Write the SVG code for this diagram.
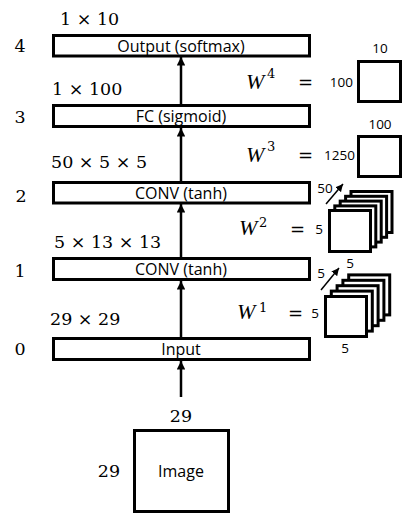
<svg xmlns="http://www.w3.org/2000/svg" width="410" height="515" viewBox="0 0 410 515">
<style>
.box{fill:#fff;stroke:#000;stroke-width:3}
.lbl{font-family:"Open Sans","Liberation Sans",sans-serif;font-size:16px;fill:#000;text-anchor:middle}
.math{font-family:"DejaVu Serif","Liberation Serif",serif;font-size:17.5px;fill:#000}
.idx{font-family:"DejaVu Serif","Liberation Serif",serif;font-size:17.5px;fill:#000;text-anchor:middle}
.w{font-family:"Liberation Serif","DejaVu Serif",serif;font-style:italic;font-size:22px;fill:#000}
.sup{font-family:"DejaVu Serif","Liberation Serif",serif;font-size:13px;fill:#000}
.eq{font-family:"DejaVu Serif","Liberation Serif",serif;font-size:18px;fill:#000}
.sm{font-family:"Open Sans","Liberation Sans",sans-serif;font-size:13.5px;fill:#000}
.conn{stroke:#000;stroke-width:2.5;fill:none}
.thin{stroke:#000;stroke-width:1.5;fill:none}
.sq{fill:#fff;stroke:#000;stroke-width:3}
</style>
<defs>
<marker id="ah" viewBox="0 0 10 10" refX="10" refY="5" markerWidth="3.4" markerHeight="3.4" orient="auto" markerUnits="strokeWidth">
<path d="M0,0 L10,5 L0,10 z" fill="#000"/>
</marker>
<marker id="ah2" viewBox="0 0 10 10" refX="10" refY="5" markerWidth="5" markerHeight="5" orient="auto" markerUnits="strokeWidth">
<path d="M0,0 L10,5 L0,10 z" fill="#000"/>
</marker>
</defs>

<g id="connectors">
<line class="conn" x1="181" y1="397" x2="181" y2="361" marker-end="url(#ah)"/>
<line class="conn" x1="181" y1="337" x2="181" y2="281" marker-end="url(#ah)"/>
<line class="conn" x1="181" y1="257" x2="181" y2="204" marker-end="url(#ah)"/>
<line class="conn" x1="181" y1="181" x2="181" y2="128" marker-end="url(#ah)"/>
<line class="conn" x1="181" y1="104" x2="181" y2="57" marker-end="url(#ah)"/>
</g>

<g id="node-output">
<rect class="box" x="53.5" y="35.5" width="256" height="20.5"/>
<text class="lbl" x="181" y="51.5">Output (softmax)</text>
<text class="idx" x="20" y="52">4</text>
<text class="math" x="60" y="25">1 × 10</text>
</g>

<g id="node-fc">
<rect class="box" x="53.5" y="105.5" width="256" height="21"/>
<text class="lbl" x="181" y="121.5">FC (sigmoid)</text>
<text class="idx" x="20" y="123">3</text>
<text class="math" x="52" y="95">1 × 100</text>
</g>

<g id="node-conv2">
<rect class="box" x="53.5" y="182.5" width="256" height="20.5"/>
<text class="lbl" x="181" y="198.5">CONV (tanh)</text>
<text class="idx" x="21" y="202">2</text>
<text class="math" x="51" y="168">50 × 5 × 5</text>
</g>

<g id="node-conv1">
<rect class="box" x="53.5" y="258.5" width="256" height="21"/>
<text class="lbl" x="181" y="274.5">CONV (tanh)</text>
<text class="idx" x="20" y="277">1</text>
<text class="math" x="54" y="248">5 × 13 × 13</text>
</g>

<g id="node-input">
<rect class="box" x="53.5" y="338.5" width="256" height="21"/>
<text class="lbl" x="181" y="354.5">Input</text>
<text class="idx" x="20" y="355">0</text>
<text class="math" x="50" y="325">29 × 29</text>
</g>

<g id="node-image">
<rect class="box" x="134.5" y="430.5" width="94" height="81"/>
<text class="lbl" x="181" y="477">Image</text>
<text class="idx" x="181" y="422">29</text>
<text class="idx" x="109" y="477">29</text>
</g>

<g id="w4">
<text class="w" x="246" y="89">W</text>
<text class="sup" x="267" y="78">4</text>
<text class="eq" x="298" y="89">=</text>
<text class="sm" x="353" y="87" text-anchor="end">100</text>
<rect class="sq" x="358.5" y="61.5" width="42" height="40"/>
<text class="sm" x="380" y="53" text-anchor="middle">10</text>
</g>

<g id="w3">
<text class="w" x="246" y="162">W</text>
<text class="sup" x="267" y="151">3</text>
<text class="eq" x="298" y="162">=</text>
<text class="sm" x="355" y="160" text-anchor="end">1250</text>
<rect class="sq" x="358.5" y="136.5" width="42" height="40"/>
<text class="sm" x="380" y="129" text-anchor="middle">100</text>
</g>

<g id="w2">
<text class="w" x="239" y="235">W</text>
<text class="sup" x="259" y="227">2</text>
<text class="eq" x="290" y="236">=</text>
<text class="sm" x="319" y="234" text-anchor="middle">5</text>
<rect class="sq" x="351" y="191.5" width="41" height="41"/>
<rect class="sq" x="345.6" y="196.3" width="41" height="41"/>
<rect class="sq" x="340.2" y="201.1" width="41" height="41"/>
<rect class="sq" x="334.8" y="205.9" width="41" height="41"/>
<rect class="sq" x="329.5" y="210.5" width="41" height="41"/>
<line class="thin" x1="326" y1="204" x2="343" y2="184" marker-end="url(#ah2)"/>
<text class="sm" x="325" y="193" text-anchor="middle">50</text>
<text class="sm" x="350" y="268" text-anchor="middle">5</text>
</g>

<g id="w1">
<text class="w" x="237" y="319">W</text>
<text class="sup" x="259" y="312">1</text>
<text class="eq" x="288" y="320">=</text>
<text class="sm" x="315" y="318" text-anchor="middle">5</text>
<rect class="sq" x="348.7" y="274.9" width="41" height="40"/>
<rect class="sq" x="342.9" y="280.3" width="41" height="40"/>
<rect class="sq" x="337.1" y="285.7" width="41" height="40"/>
<rect class="sq" x="331.3" y="291.1" width="41" height="40"/>
<rect class="sq" x="325.5" y="296.5" width="41" height="40"/>
<line class="thin" x1="321" y1="290" x2="339" y2="268" marker-end="url(#ah2)"/>
<text class="sm" x="321" y="278" text-anchor="middle">5</text>
<text class="sm" x="345" y="353" text-anchor="middle">5</text>
</g>
</svg>
